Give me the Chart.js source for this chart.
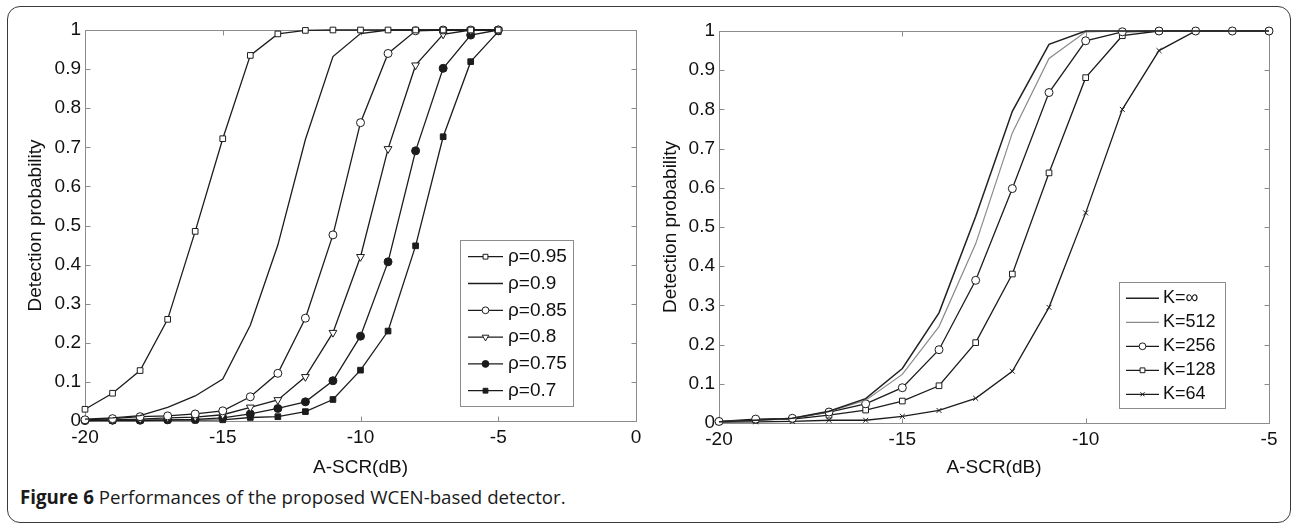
<!DOCTYPE html>
<html>
<head>
<meta charset="utf-8">
<script src="https://cdn.jsdelivr.net/npm/chart.js"></script>
<style>
html, body { margin: 0; padding: 0; background: #fff; }
body { width: 1291px; height: 524px; position: relative; overflow: hidden; }
#frame { position: absolute; left: 7px; top: 6px; width: 1284px; height: 517px; border: 1.5px solid #3a3a3a; border-radius: 13px; box-sizing: border-box; }
canvas { position: absolute; top: 0; }
#left { left: 0; }
#right { left: 650px; }
#caption { position: absolute; left: 20px; top: 484px; font-family: 'Open Sans', sans-serif; font-size: 18.7px; color: #1a1a1a; white-space: nowrap; }
</style>
</head>
<body>
<div id="frame"></div>
<canvas id="left" width="650" height="480"></canvas>
<canvas id="right" width="641" height="480"></canvas>
<div id="caption"><b>Figure 6</b> Performances of the proposed WCEN-based detector.</div>
<script>
// A-SCR in dB, same grid for both panels
const scr = [-20, -19, -18, -17, -16, -15, -14, -13, -12, -11, -10, -9, -8, -7, -6, -5];

// left panel: detection probability for different rho
const rhoLabels = ['ρ=0.95', 'ρ=0.9', 'ρ=0.85', 'ρ=0.8', 'ρ=0.75', 'ρ=0.7'];
const rho095 = [0.030, 0.071, 0.129, 0.260, 0.485, 0.722, 0.935, 0.990, 0.999, 1, 1, 1, 1, 1, 1, 1];
const rho090 = [0.005, 0.008, 0.014, 0.035, 0.064, 0.107, 0.245, 0.450, 0.720, 0.932, 0.991, 1, 1, 1, 1, 1];
const rho085 = [0.003, 0.006, 0.011, 0.013, 0.018, 0.026, 0.062, 0.122, 0.263, 0.476, 0.763, 0.940, 0.998, 1, 1, 1];
const rho080 = [0.002, 0.003, 0.005, 0.008, 0.010, 0.016, 0.035, 0.054, 0.113, 0.226, 0.420, 0.696, 0.910, 0.989, 1, 1];
const rho075 = [0.001, 0.002, 0.002, 0.003, 0.004, 0.008, 0.018, 0.032, 0.049, 0.103, 0.217, 0.407, 0.691, 0.902, 0.987, 1];
const rho070 = [0.001, 0.001, 0.001, 0.002, 0.002, 0.003, 0.009, 0.011, 0.024, 0.055, 0.130, 0.230, 0.448, 0.727, 0.919, 0.996];

// right panel: detection probability for different K
const kLabels = ['K=∞', 'K=512', 'K=256', 'K=128', 'K=64'];
const kInf = [0.003, 0.007, 0.012, 0.030, 0.062, 0.139, 0.281, 0.527, 0.795, 0.966, 1, 1, 1, 1, 1, 1];
const k512 = [0.003, 0.007, 0.012, 0.029, 0.058, 0.124, 0.246, 0.457, 0.740, 0.930, 0.998, 1, 1, 1, 1, 1];
const k256 = [0.004, 0.010, 0.012, 0.028, 0.049, 0.090, 0.187, 0.364, 0.598, 0.843, 0.975, 0.998, 1, 1, 1, 1];
const k128 = [0.003, 0.008, 0.010, 0.020, 0.033, 0.056, 0.095, 0.205, 0.380, 0.638, 0.881, 0.988, 1, 1, 1, 1];
const k64  = [0.002, 0.003, 0.004, 0.007, 0.007, 0.017, 0.032, 0.063, 0.132, 0.295, 0.536, 0.800, 0.950, 1, 1, 1];

const FONT = "'Liberation Sans', Arial, sans-serif";
const INK = '#111';
const AXIS = '#8c8c8c';
const LINE = '#1c1c1c';

const pts = arr => scr.map((x, i) => ({ x: x, y: arr[i] }));

function series(label, arr, style, filled, extra) {
  return Object.assign({
    label: label,
    data: pts(arr),
    borderColor: LINE,
    borderWidth: 1.3,
    pointStyle: style || 'circle',
    pointRadius: style ? 4 : 0,
    pointBorderColor: LINE,
    pointBorderWidth: 1,
    pointBackgroundColor: filled ? LINE : '#fff',
    pointRotation: 0,
    tension: 0,
    clip: false
  }, extra || {});
}

// matlab-like box with inward ticks on all four sides
const boxAxes = {
  id: 'boxAxes',
  beforeDatasetsDraw(chart) {
    const { ctx, chartArea: a, scales } = chart;
    const L = Math.round(a.left) + 0.5, R = Math.round(a.right) + 0.5;
    const T = Math.round(a.top) + 0.5, B = Math.round(a.bottom) + 0.5;
    ctx.save();
    ctx.strokeStyle = AXIS;
    ctx.lineWidth = 1;
    ctx.strokeRect(L, T, R - L, B - T);
    ctx.beginPath();
    scales.x.ticks.forEach(t => {
      const px = Math.round(scales.x.getPixelForValue(t.value)) + 0.5;
      ctx.moveTo(px, B); ctx.lineTo(px, B - 5);
      ctx.moveTo(px, T); ctx.lineTo(px, T + 5);
    });
    scales.y.ticks.forEach(t => {
      const py = Math.round(scales.y.getPixelForValue(t.value)) + 0.5;
      ctx.moveTo(L, py); ctx.lineTo(L + 5, py);
      ctx.moveTo(R, py); ctx.lineTo(R - 5, py);
    });
    ctx.stroke();
    ctx.restore();
  }
};

// legend box placed inside the plot like matlab's
const boxLegend = {
  id: 'boxLegend',
  afterDatasetsDraw(chart, args, o) {
    const ctx = chart.ctx;
    ctx.save();
    ctx.fillStyle = '#fff';
    ctx.fillRect(o.x, o.y, o.w, o.h);
    ctx.strokeStyle = AXIS;
    ctx.lineWidth = 1;
    ctx.strokeRect(o.x + 0.5, o.y + 0.5, o.w, o.h);
    chart.data.datasets.forEach((ds, i) => {
      const cy = o.firstRow + i * o.rowH;
      ctx.strokeStyle = ds.borderColor;
      ctx.lineWidth = ds.borderWidth;
      ctx.beginPath();
      ctx.moveTo(o.lineX, cy);
      ctx.lineTo(o.lineX + o.lineLen, cy);
      ctx.stroke();
      if (ds.pointRadius > 0) {
        ctx.fillStyle = ds.pointBackgroundColor;
        ctx.strokeStyle = ds.pointBorderColor;
        ctx.lineWidth = 1;
        Chart.helpers.drawPoint(ctx, {
          pointStyle: ds.pointStyle,
          rotation: ds.pointRotation,
          radius: ds.pointRadius * 0.85,
          borderWidth: 1
        }, o.lineX + o.lineLen / 2, cy);
      }
      ctx.fillStyle = INK;
      ctx.font = o.fontSize + 'px ' + FONT;
      ctx.textBaseline = 'middle';
      ctx.textAlign = 'left';
      ctx.fillText(ds.label, o.textX, cy);
    });
    ctx.restore();
  }
};

function yTick(v) {
  if (Math.abs(v) < 1e-9) return '0';
  if (Math.abs(v - 1) < 1e-9) return '1';
  return v.toFixed(1);
}

function makeOptions(xmax, yWidth, xHeight, pad, yTitlePad, legend) {
  return {
    responsive: false,
    animation: false,
    events: [],
    layout: { padding: pad },
    plugins: {
      legend: { display: false },
      tooltip: { enabled: false },
      boxLegend: legend
    },
    scales: {
      x: {
        type: 'linear', min: -20, max: xmax,
        grid: { display: false, drawTicks: false },
        border: { display: false },
        ticks: { stepSize: 5, padding: 5, color: INK, maxRotation: 0, autoSkip: false, font: { family: FONT, size: 19 } },
        title: { display: true, text: 'A-SCR(dB)', color: INK, padding: { top: 1, bottom: 1 }, font: { family: FONT, size: 19 } },
        afterFit(s) { s.height = xHeight; }
      },
      y: {
        min: 0, max: 1,
        grid: { display: false, drawTicks: false },
        border: { display: false },
        ticks: { stepSize: 0.1, padding: 4, color: INK, callback: yTick, font: { family: FONT, size: 19 } },
        title: { display: true, text: 'Detection probability', color: INK, padding: { top: yTitlePad, bottom: yTitlePad }, font: { family: FONT, size: 19 } },
        afterFit(s) { s.width = yWidth; }
      }
    }
  };
}

new Chart('left', {
  type: 'line',
  data: {
    datasets: [
      series(rhoLabels[0], rho095, 'rect', false),
      series(rhoLabels[1], rho090, null, false),
      series(rhoLabels[2], rho085, 'circle', false),
      series(rhoLabels[3], rho080, 'triangle', false, { pointRotation: 180, pointRadius: 4.5 }),
      series(rhoLabels[4], rho075, 'circle', true),
      series(rhoLabels[5], rho070, 'rect', true)
    ]
  },
  options: makeOptions(0, 85, 59, { left: 0, top: 30, right: 14, bottom: 0 }, 24,
    { x: 460, y: 240, w: 113, h: 166, firstRow: 256.7, rowH: 26.8, lineX: 468, lineLen: 35, textX: 508, fontSize: 19 }),
  plugins: [boxAxes, boxLegend]
});

new Chart('right', {
  type: 'line',
  data: {
    datasets: [
      series(kLabels[0], kInf, null, false, { borderWidth: 1.5, borderColor: '#222' }),
      series(kLabels[1], k512, null, false, { borderWidth: 1.2, borderColor: '#8a8a8a' }),
      series(kLabels[2], k256, 'circle', false),
      series(kLabels[3], k128, 'rect', false),
      series(kLabels[4], k64, 'crossRot', false, { pointRadius: 3.5 })
    ]
  },
  options: makeOptions(-5, 69, 57, { left: 0, top: 31, right: 22, bottom: 0 }, 9,
    { x: 469, y: 282, w: 106, h: 126, firstRow: 298.3, rowH: 24, lineX: 476, lineLen: 33, textX: 513, fontSize: 18 }),
  plugins: [boxAxes, boxLegend]
});
</script>
</body>
</html>
